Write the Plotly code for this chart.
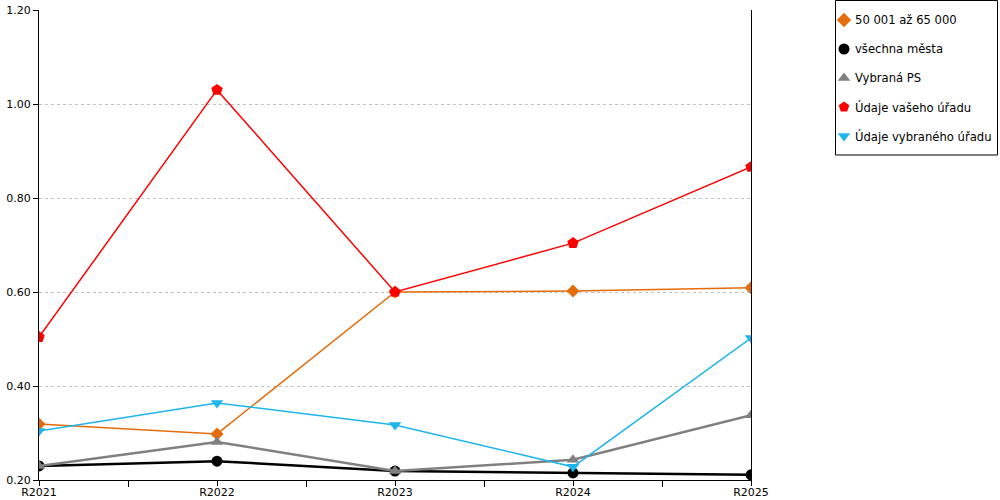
import plotly.graph_objects as go

# roky
roky = ["R2021", "R2022", "R2023", "R2024", "R2025"]

# hodnoty serii
v_50_65 = [0.319, 0.298, 0.600, 0.602, 0.609]
v_vsechna = [0.230, 0.240, 0.219, 0.215, 0.211]
v_ps = [0.230, 0.281, 0.219, 0.243, 0.338]
v_vas = [0.504, 1.030, 0.600, 0.704, 0.866]
v_vybrany = [0.304, 0.364, 0.317, 0.228, 0.502]

y_ticks = [0.2, 0.4, 0.6, 0.8, 1.0, 1.2]

serie = [
    ("50 001 až 65 000", v_50_65, "#E46C0A", "diamond", 10, 1.5),
    ("všechna města", v_vsechna, "#000000", "circle", 11, 2.5),
    ("Vybraná PS", v_ps, "#808080", "triangle-up", 11, 2.5),
    ("Údaje vašeho úřadu", v_vas, "#FF0000", "pentagon", 12, 1.5),
    ("Údaje vybraného úřadu", v_vybrany, "#1CB5EC", "triangle-down", 11, 1.5),
]

x = list(range(len(roky)))

# rozmery v pixelech
W, H = 1000, 500
L, T, B = 39, 10, 20
plot_w = W - L
plot_h = H - T - B
plot_r = 751  # pravy okraj grafu


def px_x(p):
    return (p - L) / plot_w


def px_y(p):
    return (H - B - p) / plot_h


fig = go.Figure()
for nazev, hodnoty, barva, symbol, vel, sirka in serie:
    fig.add_trace(go.Scatter(
        x=x, y=hodnoty, name=nazev, mode="lines+markers",
        showlegend=False,
        line=dict(color=barva, width=sirka),
        marker=dict(color=barva, symbol=symbol, size=vel),
    ))

# vlastni legenda (jen znacky, bez car)
leg_y = [20 + i * 29 for i in range(len(serie))]
fig.add_trace(go.Scatter(
    x=[844] * len(serie), y=leg_y, mode="markers",
    xaxis="x2", yaxis="y2", showlegend=False, hoverinfo="skip",
    marker=dict(color=[s[2] for s in serie],
                symbol=[s[3] for s in serie], size=11),
))
for (nazev, *_), yy in zip(serie, leg_y):
    fig.add_annotation(x=853, y=yy, xref="x2", yref="y2", text=nazev,
                       showarrow=False, xanchor="left", yanchor="middle",
                       font=dict(size=11.6, color="#000"))
fig.add_shape(type="rect", xref="paper", yref="paper",
              x0=px_x(835.5), x1=px_x(997.5), y0=px_y(155), y1=px_y(0.5),
              line=dict(color="#000", width=1), fillcolor="rgba(0,0,0,0)")

fig.update_layout(
    width=W, height=H,
    margin=dict(l=L, r=0, t=T, b=B, autoexpand=False),
    plot_bgcolor="rgba(0,0,0,0)", paper_bgcolor="white",
    font=dict(family="DejaVu Sans", size=12, color="#000"),
    showlegend=False,
    xaxis=dict(
        domain=[0, px_x(plot_r)],
        range=[0, 4], tickvals=x, ticktext=roky,
        showgrid=False, zeroline=False, automargin=False,
        showline=True, linecolor="#000", linewidth=1,
        ticks="outside", ticklen=5, tickcolor="#000",
        ticklabelstandoff=-3,
        minor=dict(tickvals=[0.5, 1.5, 2.5, 3.5], ticks="outside",
                   ticklen=6, tickcolor="#000"),
        tickfont=dict(size=11, color="#000"),
    ),
    yaxis=dict(
        range=[0.2, 1.2], tickvals=y_ticks, tickformat=".2f",
        showgrid=True, gridcolor="#C0C0C0", griddash="dot",
        zeroline=False, automargin=False,
        showline=True, linecolor="#000", linewidth=1, mirror=True,
        ticks="outside", ticklen=5, tickcolor="#000",
        tickfont=dict(size=11, color="#000"),
    ),
    xaxis2=dict(domain=[0, 1], range=[L, W], visible=False,
                anchor="y2", fixedrange=True),
    yaxis2=dict(domain=[0, 1], range=[H - B, T], visible=False,
                anchor="x2", fixedrange=True),
)

fig.write_html("out.html", config={"displayModeBar": False},
               post_script="document.body.style.margin='0';")
